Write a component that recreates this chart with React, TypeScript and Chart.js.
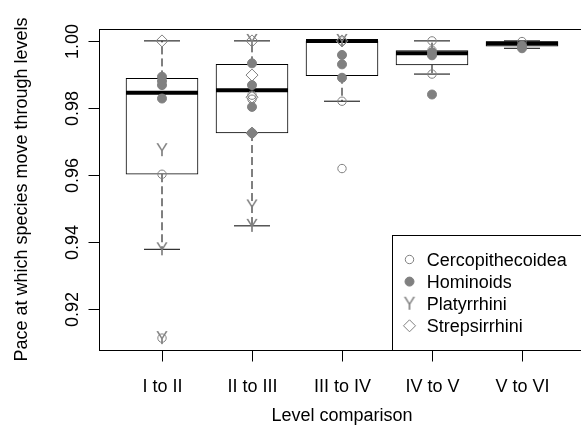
import React, { useEffect, useRef } from "react";
import { Chart, registerables } from "chart.js";

Chart.register(...registerables);

// ---- data ----
const categories = ["I to II", "II to III", "III to IV", "IV to V", "V to VI"];
const lowerWhisker = [0.9378, 0.9448, 0.982, 0.9901, 0.9978];
const quartile1 = [0.9602, 0.9725, 0.9896, 0.9928, 0.9984];
const medians = [0.9845, 0.9853, 1.0, 0.9963, 0.99925];
const quartile3 = [0.9888, 0.993, 1.0, 0.9971, 0.9998];
const upperWhisker = [1.0, 1.0, 1.0, 1.0, 1.0];

const cercopithecoidea = [[0.9602, 0.9113], [0.9838, 0.9826], [1.0, 0.982, 0.9619], [1.0, 0.9972, 0.9901], [0.9998]];
const hominoids = [[0.9893, 0.988, 0.9868, 0.9828], [0.9933, 0.9868, 0.9803, 0.9725], [0.9958, 0.993, 0.989], [0.9966, 0.9957, 0.984], [0.9986, 0.9978]];
const platyrrhini = [[0.9674, 0.9378, 0.9113], [1.0, 0.9506, 0.9448], [1.0], [], []];
const strepsirrhini = [[1.0], [1.0, 0.9898, 0.9832, 0.9725], [1.0], [], []];

const legendLabels = ["Cercopithecoidea", "Hominoids", "Platyrrhini", "Strepsirrhini"];
const yTicks = [0.92, 0.94, 0.96, 0.98, 1.0];
const yTickLabels = ["0.92", "0.94", "0.96", "0.98", "1.00"];
const xLimits = [0.3, 5.7];
const yLimits = [0.90775, 1.00355];
const xTitle = "Level comparison";
const yTitle = "Pace at which species move through levels";

// ---- styles ----
const FONT = '18px "Liberation Sans", Arial, sans-serif';
const GRAY = "#808080";
const CANVAS_W = 600;
const CANVAS_H = 439;

function toPoints(groups: number[][]) {
  const out: { x: number; y: number }[] = [];
  groups.forEach((vals, i) => vals.forEach((v) => out.push({ x: i + 1, y: v })));
  return out;
}

function makeYGlyph() {
  const c = document.createElement("canvas");
  c.width = 16;
  c.height = 18;
  const g = c.getContext("2d")!;
  g.font = FONT;
  g.fillStyle = GRAY;
  g.textAlign = "center";
  g.textBaseline = "alphabetic";
  g.fillText("Y", 8, 9 + 6.45);
  return c;
}

export default function App() {
  const ref = useRef<HTMLCanvasElement | null>(null);

  useEffect(() => {
    if (!ref.current) return;
    const yGlyph = makeYGlyph();

    const whiskerData: { x: number; y: number | null }[] = [];
    categories.forEach((_, i) => {
      whiskerData.push({ x: i + 1, y: quartile3[i] }, { x: i + 1, y: upperWhisker[i] }, { x: i + 1, y: null });
      whiskerData.push({ x: i + 1, y: quartile1[i] }, { x: i + 1, y: lowerWhisker[i] }, { x: i + 1, y: null });
    });
    const stapleData: { x: number; y: number }[] = [];
    categories.forEach((_, i) => {
      stapleData.push({ x: i + 1, y: upperWhisker[i] }, { x: i + 1, y: lowerWhisker[i] });
    });

    const decor = {
      id: "decor",
      afterDatasetsDraw(chart: any) {
        const { ctx, chartArea: a, scales } = chart;
        const x = scales.x;
        const y = scales.y;
        ctx.save();
        ctx.strokeStyle = "#000";
        ctx.lineWidth = 1;
        ctx.setLineDash([]);
        // frame
        const L = Math.round(a.left) + 0.5;
        const T = Math.round(a.top) + 0.5;
        const R = Math.round(a.right) + 0.5;
        const B = Math.round(a.bottom) + 0.5;
        ctx.strokeRect(L, T, R - L, B - T);

        ctx.font = FONT;
        ctx.fillStyle = "#000";
        // y ticks + labels
        yTicks.forEach((v, i) => {
          const py = Math.round(y.getPixelForValue(v)) + 0.5;
          ctx.beginPath();
          ctx.moveTo(L - 11, py);
          ctx.lineTo(L, py);
          ctx.stroke();
          ctx.save();
          ctx.translate(L - 22, py);
          ctx.rotate(-Math.PI / 2);
          ctx.textAlign = "center";
          ctx.textBaseline = "alphabetic";
          ctx.fillText(yTickLabels[i], 0, 0);
          ctx.restore();
        });
        // x ticks + labels
        categories.forEach((c, i) => {
          const px = Math.round(x.getPixelForValue(i + 1)) + 0.5;
          ctx.beginPath();
          ctx.moveTo(px, B);
          ctx.lineTo(px, B + 11);
          ctx.stroke();
          ctx.textAlign = "center";
          ctx.textBaseline = "alphabetic";
          ctx.fillText(c, px, a.bottom + 41.7);
        });
        // axis titles
        ctx.textAlign = "center";
        ctx.fillText(xTitle, (a.left + a.right) / 2, a.bottom + 71);
        ctx.save();
        ctx.translate(a.left - 72.5, (a.top + a.bottom) / 2);
        ctx.rotate(-Math.PI / 2);
        ctx.fillText(yTitle, 0, 0);
        ctx.restore();

        // legend
        const lx = 392.5;
        const ly = 235.5;
        ctx.fillStyle = "#fff";
        ctx.fillRect(lx, ly, R - lx, B - ly);
        ctx.strokeStyle = "#000";
        ctx.strokeRect(lx, ly, R - lx, B - ly);
        const symX = 409.5;
        const textX = 426.7;
        legendLabels.forEach((lab, i) => {
          const ry = 259.5 + 22.1 * i;
          ctx.strokeStyle = GRAY;
          ctx.fillStyle = GRAY;
          ctx.lineWidth = 1;
          if (i === 0) {
            ctx.beginPath();
            ctx.arc(symX, ry, 4.2, 0, Math.PI * 2);
            ctx.stroke();
          } else if (i === 1) {
            ctx.beginPath();
            ctx.arc(symX, ry, 4.5, 0, Math.PI * 2);
            ctx.fill();
            ctx.stroke();
          } else if (i === 2) {
            ctx.drawImage(yGlyph, symX - yGlyph.width / 2, ry - yGlyph.height / 2);
          } else {
            ctx.beginPath();
            ctx.moveTo(symX - 6, ry);
            ctx.lineTo(symX, ry - 6);
            ctx.lineTo(symX + 6, ry);
            ctx.lineTo(symX, ry + 6);
            ctx.closePath();
            ctx.stroke();
          }
          ctx.fillStyle = "#000";
          ctx.textAlign = "left";
          ctx.textBaseline = "alphabetic";
          ctx.fillText(lab, textX, ry + 6.45);
        });
        ctx.restore();
      },
    };

    const chart = new Chart(ref.current, {
      type: "bar",
      data: {
        datasets: [
          {
            type: "scatter",
            label: legendLabels[3],
            data: toPoints(strepsirrhini),
            pointStyle: "rectRot",
            pointRadius: 6,
            pointBorderColor: GRAY,
            pointBackgroundColor: "rgba(0,0,0,0)",
            pointBorderWidth: 1,
            order: 1,
          },
          {
            type: "scatter",
            label: legendLabels[2],
            data: toPoints(platyrrhini),
            pointStyle: yGlyph,
            pointRadius: 8,
            order: 2,
          },
          {
            type: "scatter",
            label: legendLabels[0],
            data: toPoints(cercopithecoidea),
            pointStyle: "circle",
            pointRadius: 4.2,
            pointBorderColor: GRAY,
            pointBackgroundColor: "rgba(0,0,0,0)",
            pointBorderWidth: 1,
            order: 3,
          },
          {
            type: "scatter",
            label: legendLabels[1],
            data: toPoints(hominoids),
            pointStyle: "circle",
            pointRadius: 4.5,
            pointBorderColor: GRAY,
            pointBackgroundColor: GRAY,
            pointBorderWidth: 1,
            order: 4,
          },
          {
            type: "scatter",
            label: "median",
            data: medians.map((v, i) => ({ x: i + 1, y: v })),
            pointStyle: "line",
            pointRadius: 36,
            pointBorderColor: "#000",
            pointBorderWidth: 4,
            order: 5,
          },
          {
            type: "scatter",
            label: "staples",
            data: stapleData,
            pointStyle: "line",
            pointRadius: 18,
            pointBorderColor: "#000",
            pointBorderWidth: 1,
            order: 6,
          },
          {
            type: "line",
            label: "whiskers",
            data: whiskerData as any,
            borderColor: "#000",
            borderWidth: 1,
            borderDash: [8, 4],
            pointRadius: 0,
            spanGaps: false,
            fill: false,
            order: 7,
          },
          {
            type: "bar",
            label: "boxes",
            data: categories.map((_, i) => ({ x: i + 1, y: [quartile1[i], quartile3[i]] })) as any,
            backgroundColor: "#fff",
            borderColor: "#000",
            borderWidth: 1,
            borderSkipped: false,
            barThickness: "flex",
            barPercentage: 0.8,
            categoryPercentage: 1,
            order: 8,
          },
        ] as any,
      },
      options: {
        animation: false,
        responsive: false,
        events: [],
        layout: {
          autoPadding: false,
          padding: { left: 99, top: 29, right: CANVAS_W - 585, bottom: CANVAS_H - 350 },
        },
        scales: {
          x: { type: "linear", offset: false, min: xLimits[0], max: xLimits[1], display: false },
          y: { type: "linear", min: yLimits[0], max: yLimits[1], display: false },
        },
        plugins: { legend: { display: false }, tooltip: { enabled: false } },
      } as any,
      plugins: [decor],
    });
    return () => chart.destroy();
  }, []);

  return (
    <div style={{ position: "fixed", left: 0, top: 0, width: 581, height: 439, overflow: "hidden", background: "#fff" }}>
      <canvas ref={ref} width={CANVAS_W} height={CANVAS_H} style={{ display: "block", width: CANVAS_W, height: CANVAS_H }} />
    </div>
  );
}
